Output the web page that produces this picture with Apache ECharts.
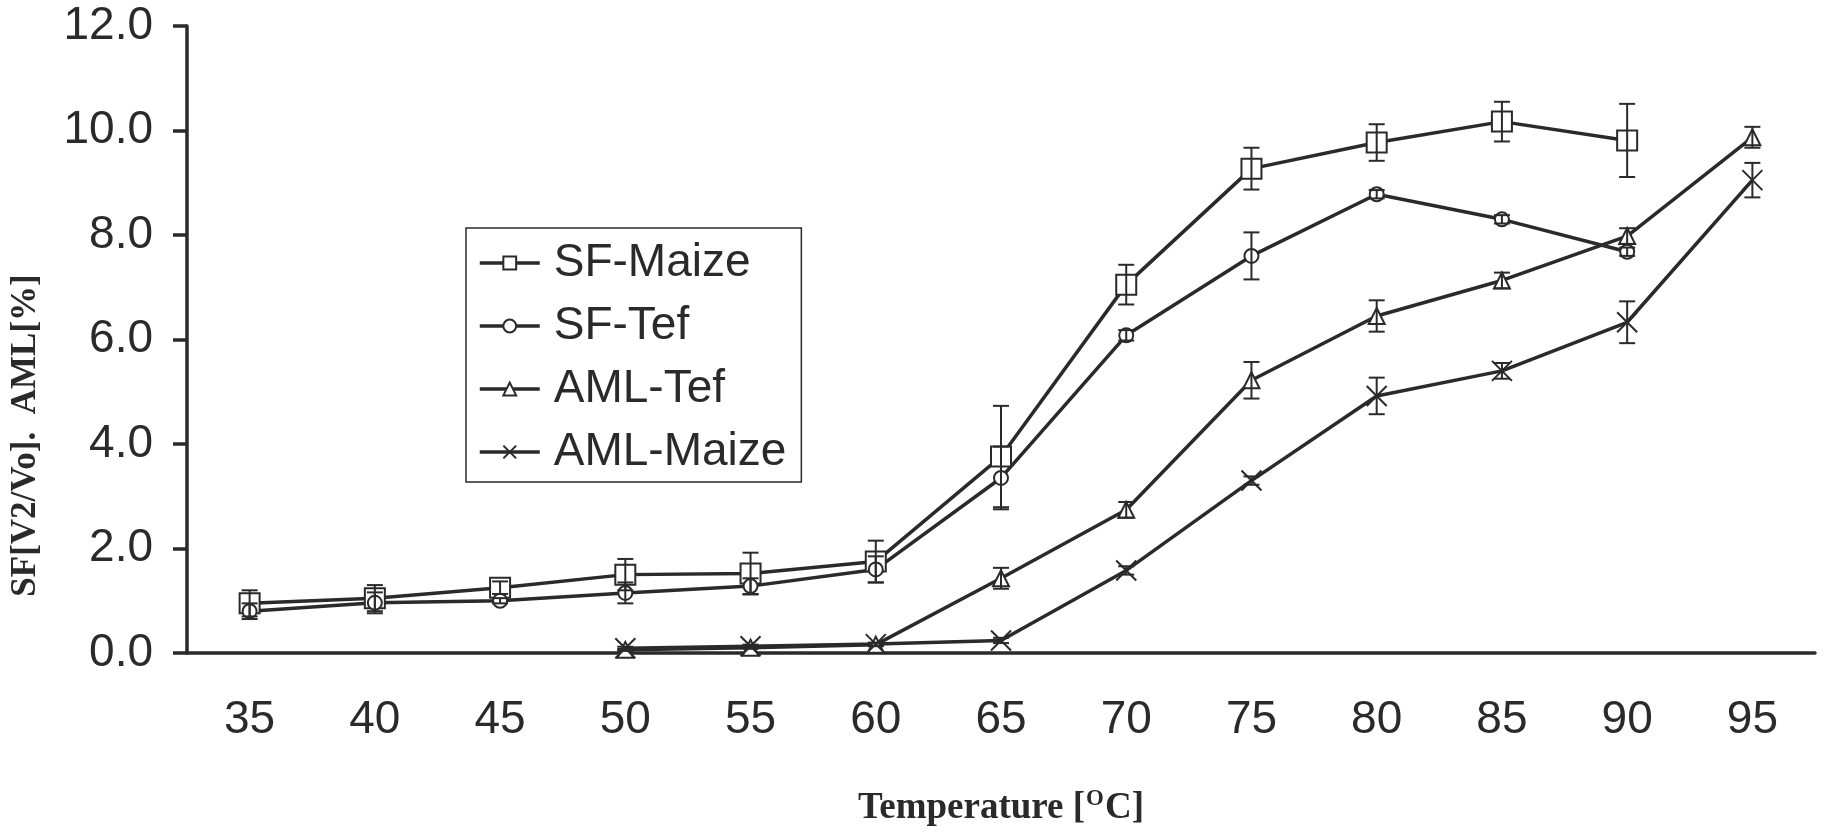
<!DOCTYPE html>
<html>
<head>
<meta charset="utf-8">
<script src="https://cdn.jsdelivr.net/npm/echarts@6/dist/echarts.min.js"></script>
<style>
  html, body { margin: 0; padding: 0; background: #fff; }
  #chart { width: 1824px; height: 832px; }
</style>
</head>
<body>
<div id="chart"></div>
<script>
// temperature categories
const temps = ['35', '40', '45', '50', '55', '60', '65', '70', '75', '80', '85', '90', '95'];
const yTicks = [0, 2, 4, 6, 8, 10, 12];

const sfMaize    = [0.95, 1.05, 1.25, 1.5, 1.52, 1.75, 3.76, 7.05, 9.27, 9.77, 10.17, 9.81, null];
const sfTef      = [0.8, 0.96, 1.0, 1.15, 1.28, 1.6, 3.35, 6.08, 7.6, 8.78, 8.3, 7.68, null];
const amlTef     = [null, null, null, 0.06, 0.1, 0.16, 1.43, 2.74, 5.22, 6.45, 7.13, 7.98, 9.87];
const amlMaize   = [null, null, null, 0.09, 0.13, 0.17, 0.24, 1.58, 3.3, 4.92, 5.4, 6.33, 9.05];

// error bar half widths
const sfMaizeErr  = [0.25, 0.25, 0.12, 0.3, 0.4, 0.4, 0.97, 0.38, 0.4, 0.35, 0.38, 0.7, null];
const sfTefErr    = [0.15, 0.2, 0.05, 0.2, 0.15, 0.25, 0.6, 0.1, 0.45, 0.08, 0.08, 0.08, null];
const amlTefErr   = [null, null, null, 0.02, 0.02, 0.03, 0.2, 0.15, 0.35, 0.3, 0.15, 0.15, 0.2];
const amlMaizeErr = [null, null, null, 0.03, 0.03, 0.03, 0.05, 0.08, 0.08, 0.35, 0.15, 0.4, 0.33];

const names = ['SF-Maize', 'SF-Tef', 'AML-Tef', 'AML-Maize'];
const ink = '#2a2a2a';

const errData = [];
[[sfMaize, sfMaizeErr], [sfTef, sfTefErr], [amlTef, amlTefErr], [amlMaize, amlMaizeErr]].forEach(([vals, errs]) => {
    vals.forEach((v, i) => {
        if (v == null || errs[i] == null) return;
        errData.push([i, v - errs[i], v + errs[i]]);
    });
});

const lineSeries = (name, data, symbol, size) => ({
    name, type: 'line', data, symbol, symbolSize: size,
    showAllSymbol: true, connectNulls: false,
    lineStyle: { color: ink, width: 3.5 },
    itemStyle: { color: ink, borderColor: ink, borderWidth: 2 },
    emphasis: { disabled: true },
    z: 3,
});

const chart = echarts.init(document.getElementById('chart'));
chart.setOption({
    backgroundColor: '#fff',
    animation: false,
    grid: { left: 177, right: 9, top: 26, bottom: 164 },
    legend: {
        data: names,
        orient: 'vertical',
        left: 466, top: 228,
        itemWidth: 60, itemHeight: 16, itemGap: 13,
        padding: [10, 15, 5, 12],
        borderColor: ink, borderWidth: 1.5,
        lineStyle: { width: 3.5 },
        textStyle: { fontFamily: 'Liberation Sans', fontSize: 46, color: ink, lineHeight: 50, padding: [0, 0, 0, 9] },
    },
    xAxis: {
        type: 'category', data: temps, boundaryGap: true,
        name: 'Temperature [{sup|O}C]',
        nameLocation: 'middle', nameGap: 135,
        nameTextStyle: {
            fontFamily: 'Liberation Serif', fontWeight: 'bold', fontSize: 37, color: ink,
            rich: { sup: { fontFamily: 'Liberation Serif', fontSize: 23, fontWeight: 'bold', color: ink, padding: [0, 1, 18, 1] } },
        },
        axisLine: { lineStyle: { color: ink, width: 3.5 } },
        axisTick: { length: 13, lineStyle: { color: ink, width: 3.5 } },
        axisLabel: { fontFamily: 'Liberation Sans', fontSize: 46, color: ink, margin: 44 },
        splitLine: { show: false },
    },
    yAxis: {
        type: 'value', min: 0, max: 12, interval: 2,
        name: 'SF[V2/Vo].  AML[%]',
        nameLocation: 'middle', nameGap: 144, nameRotate: 90,
        nameTextStyle: { fontFamily: 'Liberation Serif', fontWeight: 'bold', fontSize: 35, color: ink, padding: [0, 192, 0, 0] },
        axisLine: { show: true, lineStyle: { color: ink, width: 3.5 } },
        axisTick: { show: true, length: 14, lineStyle: { color: ink, width: 3.5 } },
        axisLabel: {
            fontFamily: 'Liberation Sans', fontSize: 46, color: ink, margin: 34,
            formatter: v => yTicks.includes(v) ? v.toFixed(1) : '',
        },
        splitLine: { show: false },
    },
    series: [
        lineSeries('SF-Maize', sfMaize, 'emptyRect', 20),
        lineSeries('SF-Tef', sfTef, 'emptyCircle', 14),
        lineSeries('AML-Tef', amlTef, 'emptyTriangle', 16),
        lineSeries('AML-Maize', amlMaize, 'path://M0 0L10 10M10 0L0 10', 20),
        {
            name: 'err', type: 'custom', data: errData, z: 4,
            renderItem: (params, api) => {
                const lo = api.coord([api.value(0), api.value(1)]);
                const hi = api.coord([api.value(0), api.value(2)]);
                const cap = 8;
                const st = { stroke: ink, lineWidth: 2 };
                return {
                    type: 'group',
                    children: [
                        { type: 'line', shape: { x1: lo[0], y1: lo[1], x2: hi[0], y2: hi[1] }, style: st },
                        { type: 'line', shape: { x1: lo[0] - cap, y1: lo[1], x2: lo[0] + cap, y2: lo[1] }, style: st },
                        { type: 'line', shape: { x1: hi[0] - cap, y1: hi[1], x2: hi[0] + cap, y2: hi[1] }, style: st },
                    ],
                };
            },
        },
    ],
});
</script>
</body>
</html>
